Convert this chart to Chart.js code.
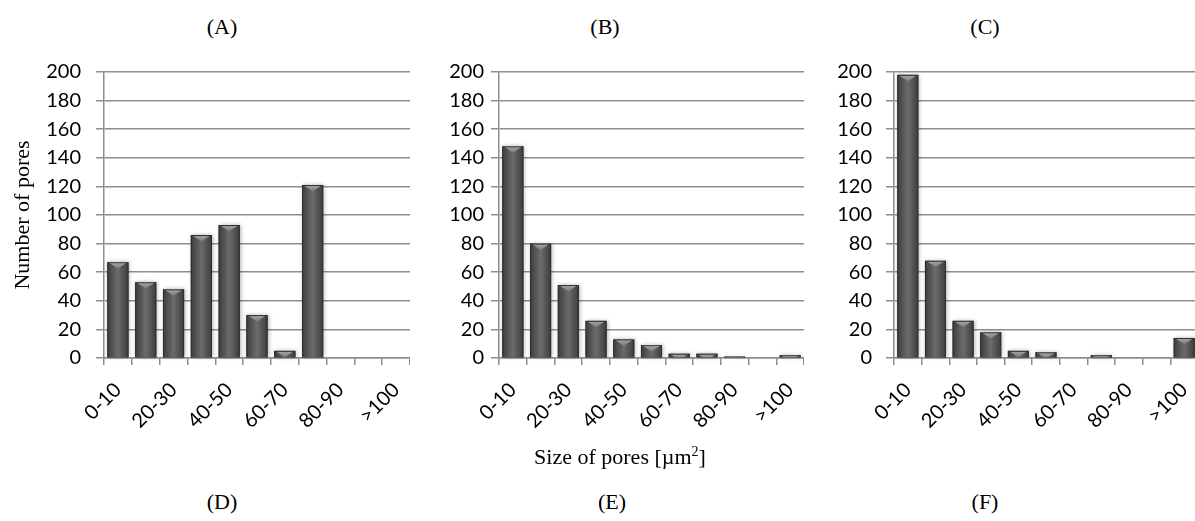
<!DOCTYPE html>
<html>
<head>
<meta charset="utf-8">
<script src="https://cdn.jsdelivr.net/npm/chart.js@4.4.1/dist/chart.umd.min.js"></script>
<style>
  html, body { margin: 0; padding: 0; background: #fff; overflow: hidden; }
  body { width: 1195px; height: 521px; position: relative; }
  .box { position: absolute; }
  .lbl { position: absolute; font-family: "Liberation Serif", serif; font-size: 22px; color: #000; transform: translateX(-50%); white-space: nowrap; }
  .xt { position: absolute; font-family: "Liberation Serif", serif; font-size: 22px; color: #000; transform: translateX(-50%); white-space: nowrap; }
  .xt sup { font-size: 14px; }
</style>
</head>
<body>
<div class="box" style="left:0;top:50px;width:410px;height:388px"><canvas id="chartA"></canvas></div>
<div class="box" style="left:400px;top:50px;width:404px;height:388px"><canvas id="chartB"></canvas></div>
<div class="box" style="left:790px;top:50px;width:408px;height:388px"><canvas id="chartC"></canvas></div>

<div class="lbl" style="left:222px;top:14px">(A)</div>
<div class="lbl" style="left:605px;top:14px">(B)</div>
<div class="lbl" style="left:985px;top:14px">(C)</div>
<div class="lbl" style="left:222px;top:489px">(D)</div>
<div class="lbl" style="left:612px;top:489px">(E)</div>
<div class="lbl" style="left:985px;top:489px">(F)</div>
<div class="xt" style="left:620px;top:444px">Size of pores [µm<sup>2</sup>]</div>

<script>
// pore size classes
const sizes = ['0-10', '10-20', '20-30', '30-40', '40-50', '50-60', '60-70', '70-80', '80-90', '90-100', '>100'];
const yTicks = [0, 20, 40, 60, 80, 100, 120, 140, 160, 180, 200];

// number of pores per class
const poresA = [67, 53, 48, 86, 93, 30, 5, 121, 0, 0, 0];
const poresB = [148, 80, 51, 26, 13, 9, 3, 3, 1, 0, 2];
const poresC = [198, 68, 26, 18, 5, 4, 0, 2, 0, 0, 14];

const gridCol = '#8e8e8e';
const tickFont = { family: 'Lato', size: 20 };

// shaded look of the bars, drawn on top of the library's bar elements
const bevel = {
  id: 'bevel',
  afterDatasetsDraw(chart) {
    const ctx = chart.ctx;
    chart.getDatasetMeta(0).data.forEach(bar => {
      const { x, y, base, width } = bar.getProps(['x', 'y', 'base', 'width'], true);
      const h = base - y;
      if (h <= 0.5) return;
      const l = x - width / 2, r = x + width / 2;
      ctx.save();
      ctx.shadowColor = 'rgba(0,0,0,0.3)';
      ctx.shadowBlur = 4;
      ctx.shadowOffsetX = 1;
      const g = ctx.createLinearGradient(l, 0, r, 0);
      g.addColorStop(0, '#3c3c3c');
      g.addColorStop(0.5, '#6c6c6c');
      g.addColorStop(1, '#3c3c3c');
      ctx.fillStyle = g;
      ctx.fillRect(l, y, width, h);
      ctx.restore();

      ctx.save();
      ctx.beginPath();
      ctx.rect(l, y, width, h);
      ctx.clip();
      const t = width * 0.3;
      const g2 = ctx.createLinearGradient(0, y, 0, y + t);
      g2.addColorStop(0, '#a8a8a8');
      g2.addColorStop(1, '#7c7c7c');
      ctx.fillStyle = g2;
      ctx.beginPath();
      ctx.moveTo(l + 1, y);
      ctx.lineTo(r - 1, y);
      ctx.lineTo(x, y + t);
      ctx.closePath();
      ctx.fill();
      ctx.strokeStyle = '#2e2e2e';
      ctx.lineWidth = 1;
      ctx.strokeRect(l + 0.5, y + 0.5, width - 1, h);
      ctx.restore();
    });
  }
};

function makeChart(id, values, yWidth, yPad, showTitle) {
  return new Chart(document.getElementById(id), {
    type: 'bar',
    data: {
      labels: sizes,
      datasets: [{
        data: values,
        backgroundColor: '#4a4a4a',
        categoryPercentage: 1,
        barPercentage: 0.76
      }]
    },
    options: {
      responsive: true,
      maintainAspectRatio: false,
      animation: false,
      layout: { padding: { top: 22, right: 0, left: 0, bottom: 0 } },
      plugins: { legend: { display: false }, tooltip: { enabled: false } },
      scales: {
        x: {
          offset: true,
          grid: { offset: true, drawOnChartArea: false, color: gridCol, lineWidth: 1.5, tickLength: 7 },
          border: { color: gridCol, width: 1.5 },
          ticks: {
            autoSkip: false,
            maxRotation: 45,
            minRotation: 45,
            color: '#000',
            font: tickFont,
            padding: 13,
            callback: (v, i) => (i % 2 === 0 ? sizes[i] : '')
          },
          afterFit: s => { s.height = 80; s.paddingLeft = 0; s.paddingRight = 0; }
        },
        y: {
          min: yTicks[0],
          max: yTicks[yTicks.length - 1],
          afterBuildTicks: s => { s.ticks = yTicks.map(v => ({ value: v })); },
          grid: { color: gridCol, lineWidth: 1.5, tickLength: 8 },
          border: { color: gridCol, width: 1.5 },
          ticks: { color: '#000', font: tickFont, padding: yPad },
          title: {
            display: showTitle,
            text: 'Number of pores',
            color: '#000',
            font: { family: 'Liberation Serif', size: 22 },
            padding: { top: 10, bottom: 0 }
          },
          afterFit: s => { s.width = yWidth; s.paddingTop = 0; s.paddingBottom = 0; }
        }
      }
    },
    plugins: [bevel]
  });
}

makeChart('chartA', poresA, 104, 15, true);
makeChart('chartB', poresB, 99, 7, false);
makeChart('chartC', poresC, 104, 14, false);
</script>
</body>
</html>
